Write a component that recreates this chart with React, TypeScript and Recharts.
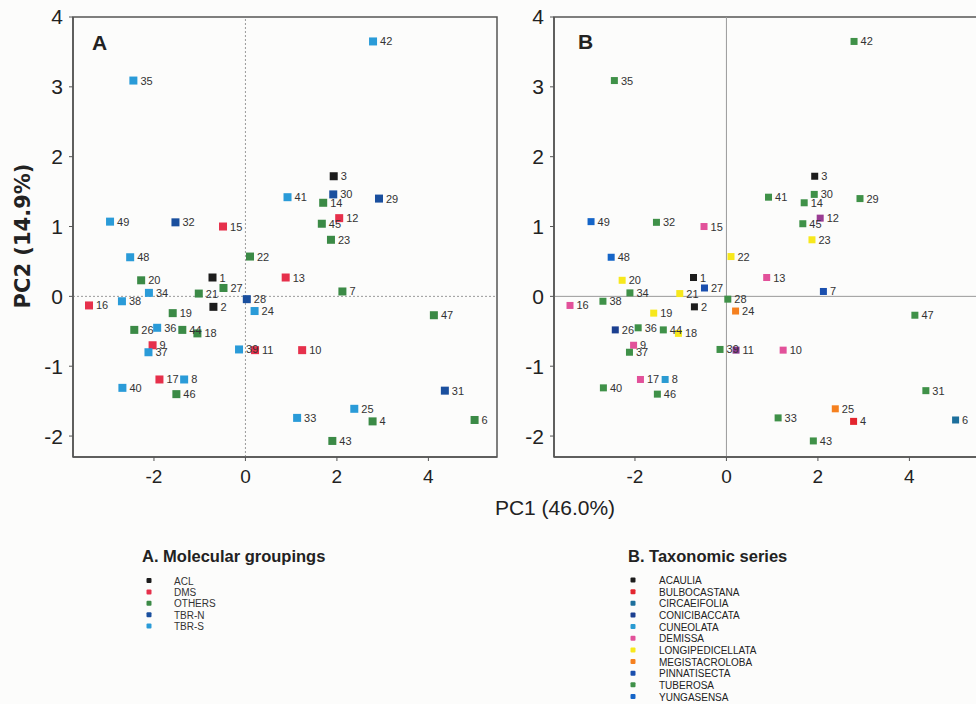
import React from 'react';
import { ScatterChart, Scatter, XAxis, YAxis, ReferenceLine, ReferenceArea } from 'recharts';

// ---------- data ----------
const accessionIds = [1, 2, 3, 4, 6, 7, 8, 9, 10, 11, 12, 13, 14, 15, 16, 17, 18, 19, 20, 21, 22, 23, 24, 25, 26, 27, 28, 29, 30, 31, 32, 33, 34, 35, 36, 37, 38, 39, 40, 41, 42, 43, 44, 45, 46, 47, 48, 49];
const pc1 = [-0.72, -0.70, 1.93, 2.78, 5.01, 2.12, -1.34, -2.03, 1.24, 0.21, 2.05, 0.88, 1.70, -0.49, -3.42, -1.88, -1.05, -1.59, -2.28, -1.02, 0.10, 1.87, 0.20, 2.38, -2.43, -0.48, 0.03, 2.92, 1.92, 4.36, -1.53, 1.13, -2.11, -2.45, -1.93, -2.12, -2.70, -0.14, -2.69, 0.92, 2.79, 1.90, -1.38, 1.67, -1.51, 4.12, -2.52, -2.96];
const pc2 = [0.27, -0.15, 1.72, -1.79, -1.77, 0.07, -1.19, -0.70, -0.77, -0.77, 1.12, 0.27, 1.34, 1.00, -0.13, -1.19, -0.53, -0.24, 0.23, 0.04, 0.57, 0.81, -0.21, -1.61, -0.48, 0.12, -0.04, 1.40, 1.46, -1.35, 1.06, -1.74, 0.05, 3.09, -0.45, -0.80, -0.07, -0.76, -1.31, 1.42, 3.65, -2.07, -0.48, 1.04, -1.40, -0.27, 0.56, 1.07];
const molecularGroup = ['ACL', 'ACL', 'ACL', 'OTHERS', 'OTHERS', 'OTHERS', 'TBR-S', 'DMS', 'DMS', 'DMS', 'DMS', 'DMS', 'OTHERS', 'DMS', 'DMS', 'DMS', 'OTHERS', 'OTHERS', 'OTHERS', 'OTHERS', 'OTHERS', 'OTHERS', 'TBR-S', 'TBR-S', 'OTHERS', 'OTHERS', 'TBR-N', 'TBR-N', 'TBR-N', 'TBR-N', 'TBR-N', 'TBR-S', 'TBR-S', 'TBR-S', 'TBR-S', 'TBR-S', 'TBR-S', 'TBR-S', 'TBR-S', 'TBR-S', 'TBR-S', 'OTHERS', 'OTHERS', 'OTHERS', 'OTHERS', 'OTHERS', 'TBR-S', 'TBR-S'];
const taxonomicSeries = ['ACAULIA', 'ACAULIA', 'ACAULIA', 'BULBOCASTANA', 'CIRCAEIFOLIA', 'PINNATISECTA', 'CUNEOLATA', 'DEMISSA', 'DEMISSA', 'DEMISSA', 'DEMISSA', 'DEMISSA', 'TUBEROSA', 'DEMISSA', 'DEMISSA', 'DEMISSA', 'LONGIPEDICELLATA', 'LONGIPEDICELLATA', 'LONGIPEDICELLATA', 'LONGIPEDICELLATA', 'LONGIPEDICELLATA', 'LONGIPEDICELLATA', 'MEGISTACROLOBA', 'MEGISTACROLOBA', 'CONICIBACCATA', 'PINNATISECTA', 'TUBEROSA', 'TUBEROSA', 'TUBEROSA', 'TUBEROSA', 'TUBEROSA', 'TUBEROSA', 'TUBEROSA', 'TUBEROSA', 'TUBEROSA', 'TUBEROSA', 'TUBEROSA', 'TUBEROSA', 'TUBEROSA', 'TUBEROSA', 'TUBEROSA', 'TUBEROSA', 'TUBEROSA', 'TUBEROSA', 'TUBEROSA', 'TUBEROSA', 'YUNGASENSA', 'YUNGASENSA'];

const molecularGroups = ['ACL', 'DMS', 'OTHERS', 'TBR-N', 'TBR-S'];
const taxonomicGroups = ['ACAULIA', 'BULBOCASTANA', 'CIRCAEIFOLIA', 'CONICIBACCATA', 'CUNEOLATA', 'DEMISSA', 'LONGIPEDICELLATA', 'MEGISTACROLOBA', 'PINNATISECTA', 'TUBEROSA', 'YUNGASENSA'];

const xTicks = [-2, 0, 2, 4];
const yTicks = [-2, -1, 0, 1, 2, 3, 4];

// ---------- styles ----------
const X_MIN = -3.77, X_MAX = 5.5, Y_MIN = -2.3, Y_MAX = 4;
const colorsA: Record<string, string> = {
  'ACL': '#1c1c1c', 'DMS': '#e6304b', 'OTHERS': '#3b8a46', 'TBR-N': '#1a4f9e', 'TBR-S': '#2a9bd8',
};
const colorsB: Record<string, string> = {
  ACAULIA: '#1c1c1c', BULBOCASTANA: '#e3262f', CIRCAEIFOLIA: '#1d6f9c', CONICIBACCATA: '#1b3f90',
  CUNEOLATA: '#2a9bd2', DEMISSA: '#e2519a', LONGIPEDICELLATA: '#f7e81c', MEGISTACROLOBA: '#f5801f',
  PINNATISECTA: '#1a4fae', TUBEROSA: '#3f9148', YUNGASENSA: '#1565c8',
};
const overrideB: Record<number, string> = { 11: '#8d3990', 12: '#9a3c93' };

const rows = accessionIds.map((id, i) => ({ id, x: pc1[i], y: pc2[i], a: molecularGroup[i], b: taxonomicSeries[i] }));

const makeShape = (fill: string, size: number, override?: Record<number, string>) => (props: any) => {
  const { cx, cy, payload } = props;
  if (cx == null || cy == null) return <g />;
  const f = (override && override[payload.id]) || fill;
  return (
    <g>
      <rect x={cx - size / 2} y={cy - size / 2} width={size} height={size} fill={f} />
      <text x={cx + size / 2 + 3} y={cy + 4} fontSize={11} fill="#333" fontFamily="Liberation Sans, Arial, sans-serif">{payload.id}</text>
    </g>
  );
};

type PanelProps = { left: number; groups: string[]; key2: 'a' | 'b'; colors: Record<string, string>; size: number; dashed: boolean; override?: Record<number, string> };

const Panel = ({ left, groups, key2, colors, size, dashed, override }: PanelProps) => (
  <div style={{ position: 'absolute', left, top: 0 }}>
    <ScatterChart width={500} height={500} margin={{ top: 17, right: 3, bottom: 0, left: 0 }}>
      <XAxis type="number" dataKey="x" domain={[X_MIN, X_MAX]} allowDataOverflow ticks={xTicks} height={43}
        axisLine={{ stroke: '#555', strokeWidth: 1.5 }} tickLine={{ stroke: '#555' }} tickSize={4} tickMargin={9}
        tick={{ fontSize: 19, fill: '#222', fontFamily: 'Liberation Sans Narrow, Liberation Sans, Arial' }} />
      <YAxis type="number" dataKey="y" domain={[Y_MIN, Y_MAX]} allowDataOverflow ticks={yTicks} width={73}
        axisLine={{ stroke: '#555', strokeWidth: 1.5 }} tickLine={{ stroke: '#555' }} tickSize={4} tickMargin={6}
        tick={{ fontSize: 21, fill: '#222', fontFamily: 'Liberation Sans, Arial' }} />
      <ReferenceLine x={0} stroke="#9a9a9a" strokeWidth={1} strokeDasharray={dashed ? '2 2' : undefined} />
      <ReferenceLine y={0} stroke="#9a9a9a" strokeWidth={1} strokeDasharray={dashed ? '2 2' : undefined} />
      <ReferenceArea x1={X_MIN} x2={X_MAX} y1={Y_MIN} y2={Y_MAX} fill="none" stroke="#555" strokeWidth={1.5} ifOverflow="visible" />
      {groups.map((g) => (
        <Scatter key={g} name={g} data={rows.filter((r) => r[key2] === g)} fill={colors[g]}
          shape={makeShape(colors[g], size, override)} isAnimationActive={false} />
      ))}
    </ScatterChart>
  </div>
);

export default function App() {
  return (
    <div style={{ position: 'fixed', left: 0, top: 0, width: 976, height: 704, overflow: 'hidden', background: '#fcfcfb', fontFamily: 'Liberation Sans, Arial, sans-serif' }}>
      <Panel left={0} groups={molecularGroups} key2="a" colors={colorsA} size={8} dashed />
      <Panel left={481} groups={taxonomicGroups} key2="b" colors={colorsB} size={7} dashed={false} override={overrideB} />
      <svg width={976} height={704} style={{ position: 'absolute', left: 0, top: 0, pointerEvents: 'none' }}>
        <text x={92} y={50} fontSize={21} fontWeight="bold" fill="#222" fontFamily="Liberation Sans, Arial">A</text>
        <text x={578} y={49} fontSize={21} fontWeight="bold" fill="#222" fontFamily="Liberation Sans, Arial">B</text>
        <text transform="translate(30,236) rotate(-90)" textAnchor="middle" fontSize={21} fontWeight="bold" fill="#222" fontFamily="DejaVu Sans, Liberation Sans">PC2 (14.9%)</text>
        <text x={555} y={515} textAnchor="middle" fontSize={21} fill="#222" fontFamily="Liberation Sans Narrow, Liberation Sans, Arial">PC1 (46.0%)</text>

        <text x={142} y={562} fontSize={16.5} fontWeight="bold" fill="#222">A. Molecular groupings</text>
        {molecularGroups.map((g, i) => (
          <g key={g}>
            <rect x={146.5} y={578 + i * 11.4} width={5} height={5} rx={1} fill={colorsA[g]} />
            <text x={174} y={584.5 + i * 11.4} fontSize={10} fill="#333">{g}</text>
          </g>
        ))}
        <text x={628} y={562} fontSize={16.5} fontWeight="bold" fill="#222">B. Taxonomic series</text>
        {taxonomicGroups.map((g, i) => (
          <g key={g}>
            <rect x={630.5} y={577.5 + i * 11.65} width={5} height={5} rx={1} fill={colorsB[g]} />
            <text x={659} y={584 + i * 11.65} fontSize={10} fill="#222">{g}</text>
          </g>
        ))}
      </svg>
    </div>
  );
}
